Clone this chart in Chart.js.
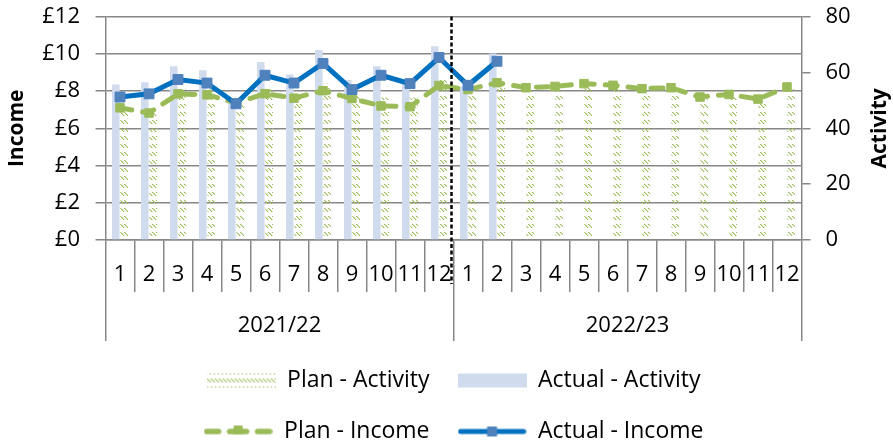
<!DOCTYPE html>
<html>
<head>
<meta charset="utf-8">
<script src="https://cdn.jsdelivr.net/npm/chart.js@4.4.1/dist/chart.umd.min.js"></script>
<style>
  html, body { margin: 0; padding: 0; background: #fff; }
  canvas { display: block; }
</style>
</head>
<body>
<canvas id="chart" width="893" height="440"></canvas>
<script>
// month numbers for two financial years
const months = ['1', '2', '3', '4', '5', '6', '7', '8', '9', '10', '11', '12',
                '1', '2', '3', '4', '5', '6', '7', '8', '9', '10', '11', '12'];
const years = ['2021/22', '2022/23'];

// activity (right axis)
const planActivity = [47, 45.5, 54, 54, 50, 54, 53, 56, 52.5, 51, 51, 58,
                      52.5, 55.5, 53.5, 53.5, 54.5, 54, 53, 54, 50.5, 51, 50, 54];
const actualActivity = [55.7, 56.5, 62.2, 60.8, 49, 63.7, 59.3, 68, 57.3, 62.2, 57.5, 69.4,
                        55, 66.8, null, null, null, null, null, null, null, null, null, null];

// income in £ (left axis)
const planIncome = [7.1, 6.82, 7.85, 7.8, 7.36, 7.86, 7.62, 8.02, 7.6, 7.2, 7.16, 8.3,
                    8.08, 8.45, 8.18, 8.25, 8.4, 8.31, 8.13, 8.18, 7.68, 7.82, 7.57, 8.22];
const actualIncome = [7.68, 7.85, 8.62, 8.43, 7.32, 8.85, 8.43, 9.48, 8.08, 8.85, 8.4, 9.8,
                      8.31, 9.6, null, null, null, null, null, null, null, null, null, null];

const GREEN = '#9BBB59';
const BLUE = '#0070C0';
const BLUE_MARK = '#4F81BD';
const PALE = '#D0DCEE';
const GRID = '#878787';
const FONT = "'Open Sans', sans-serif";

// dashed downward diagonal, 8x8 tile
function hatch(ctx) {
  const tile = document.createElement('canvas');
  tile.width = 8;
  tile.height = 8;
  const g = tile.getContext('2d');
  for (let k = 0; k < 4; k++) {
    g.fillStyle = GREEN;
    g.fillRect(k, k, 1, 1);
    g.fillRect(k + 4, k, 1, 1);
    g.fillStyle = 'rgba(155, 187, 89, 0.4)';
    g.fillRect(k + 1, k, 1, 1);
    g.fillRect((k + 5) % 8, k, 1, 1);
  }
  return ctx.createPattern(tile, 'repeat');
}

function icon(draw) {
  const c = document.createElement('canvas');
  c.width = 69;
  c.height = 20;
  draw(c.getContext('2d'));
  return c;
}

// legend symbols, one per dataset
const legendIcons = [
  icon(g => { g.fillStyle = hatch(g); g.fillRect(0, 3, 69, 14); }),
  icon(g => { g.fillStyle = PALE; g.fillRect(0, 3, 69, 14); }),
  icon(g => {
    g.strokeStyle = GREEN;
    g.lineWidth = 5.5;
    g.lineCap = 'round';
    [[3, 15], [26, 43], [54, 66]].forEach(([a, b]) => {
      g.beginPath(); g.moveTo(a, 10); g.lineTo(b, 10); g.stroke();
    });
    g.fillStyle = GREEN;
    g.fillRect(30, 4, 9, 9);
  }),
  icon(g => {
    g.strokeStyle = BLUE;
    g.lineWidth = 5;
    g.lineCap = 'round';
    g.beginPath(); g.moveTo(3, 10); g.lineTo(66, 10); g.stroke();
    g.fillStyle = BLUE_MARK;
    g.fillRect(29.5, 5, 10, 10);
  })
];

// year divider and the right-hand axis title
const extras = {
  id: 'extras',
  afterDraw(chart) {
    const { ctx, chartArea, scales } = chart;
    const x = scales.x;
    const perYear = months.length / years.length;
    const sx = (x.getPixelForValue(perYear - 1) + x.getPixelForValue(perYear)) / 2 - 2;
    ctx.save();
    ctx.strokeStyle = '#000';
    ctx.lineWidth = 2.5;
    ctx.setLineDash([4, 2.5]);
    ctx.beginPath();
    ctx.moveTo(sx, chartArea.top);
    ctx.lineTo(sx, x.top + 44);
    ctx.stroke();
    ctx.restore();

    const y1 = scales.y1;
    ctx.save();
    ctx.translate(y1.right - 13, (y1.top + y1.bottom) / 2);
    ctx.rotate(-Math.PI / 2);
    ctx.font = 'bold 21px ' + FONT;
    ctx.fillStyle = '#000';
    ctx.textAlign = 'center';
    ctx.textBaseline = 'middle';
    ctx.fillText('Activity', 0, 0);
    ctx.restore();
  }
};

const canvas = document.getElementById('chart');
const tickFont = { family: FONT, size: 22 };
// y tick labels: small line height so they don't push the plot top down
const yTickFont = { family: FONT, size: 22, lineHeight: 0.1 };

new Chart(canvas, {
  type: 'bar',
  data: {
    labels: months,
    datasets: [
      {
        label: 'Plan - Activity',
        data: planActivity,
        yAxisID: 'y1',
        xAxisID: 'x',
        backgroundColor: hatch(canvas.getContext('2d')),
        order: 4
      },
      {
        label: 'Actual - Activity',
        data: actualActivity,
        yAxisID: 'y1',
        xAxisID: 'x',
        backgroundColor: PALE,
        order: 3
      },
      {
        type: 'line',
        label: 'Plan - Income',
        data: planIncome,
        yAxisID: 'y',
        xAxisID: 'x',
        borderColor: GREEN,
        backgroundColor: GREEN,
        borderWidth: 5,
        borderDash: [12, 11],
        borderCapStyle: 'round',
        pointStyle: 'rect',
        pointRadius: 6,
        pointBorderWidth: 1,
        tension: 0,
        order: 2
      },
      {
        type: 'line',
        label: 'Actual - Income',
        data: actualIncome,
        yAxisID: 'y',
        xAxisID: 'x',
        borderColor: BLUE,
        backgroundColor: BLUE_MARK,
        pointBorderColor: BLUE_MARK,
        borderWidth: 5,
        pointStyle: 'rect',
        pointRadius: 7,
        pointBorderWidth: 1,
        tension: 0,
        order: 1
      }
    ]
  },
  options: {
    responsive: false,
    devicePixelRatio: 1,
    animation: false,
    categoryPercentage: 0.58,
    barPercentage: 0.9,
    layout: { padding: { top: 16.5, left: 0, right: 0, bottom: 0 } },
    plugins: {
      tooltip: { enabled: false },
      legend: {
        position: 'bottom',
        fullSize: false,
        maxHeight: 99,
        labels: {
          usePointStyle: true,
          pointStyleWidth: 69,
          boxHeight: 14,
          padding: 28,
          color: '#000',
          font: { family: FONT, size: 23 },
          generateLabels(chart) {
            return Chart.defaults.plugins.legend.labels.generateLabels(chart)
              .sort((a, b) => a.datasetIndex - b.datasetIndex)
              .map(item => Object.assign(item, { pointStyle: legendIcons[item.datasetIndex] }));
          }
        }
      }
    },
    scales: {
      x: {
        type: 'category',
        position: 'bottom',
        offset: true,
        weight: 0,
        grid: { offset: true, drawOnChartArea: false, tickLength: 52, color: GRID, lineWidth: 1.5 },
        border: { color: GRID, width: 1.5 },
        ticks: { color: '#000', font: tickFont, padding: -30, maxRotation: 0, autoSkip: false },
        afterFit(s) { s.height = 52; }
      },
      x2: {
        type: 'category',
        labels: years,
        position: 'bottom',
        offset: true,
        weight: 1,
        grid: { offset: true, drawOnChartArea: false, tickLength: 49, color: GRID, lineWidth: 1.5 },
        border: { display: false },
        ticks: { color: '#000', font: tickFont, padding: -28, maxRotation: 0 },
        afterFit(s) { s.height = 49; }
      },
      y: {
        position: 'left',
        min: 0,
        max: 12,
        ticks: { stepSize: 2, color: '#000', font: yTickFont, padding: 15.5, callback: v => '£' + v },
        grid: { color: GRID, lineWidth: 1.5, tickLength: 10 },
        border: { color: GRID, width: 1.5 },
        title: { display: true, text: 'Income', color: '#000', padding: 4,
                 font: { family: FONT, size: 21, weight: 'bold' } },
        afterFit(s) { s.width = 105.5; }
      },
      y1: {
        position: 'right',
        min: 0,
        max: 80,
        ticks: { stepSize: 20, color: '#000', font: yTickFont, padding: 15 },
        grid: { drawOnChartArea: false, color: GRID, lineWidth: 1.5, tickLength: 9 },
        border: { color: GRID, width: 1.5 },
        afterFit(s) { s.width = 91.5; }
      }
    }
  },
  plugins: [extras]
});
</script>
</body>
</html>
